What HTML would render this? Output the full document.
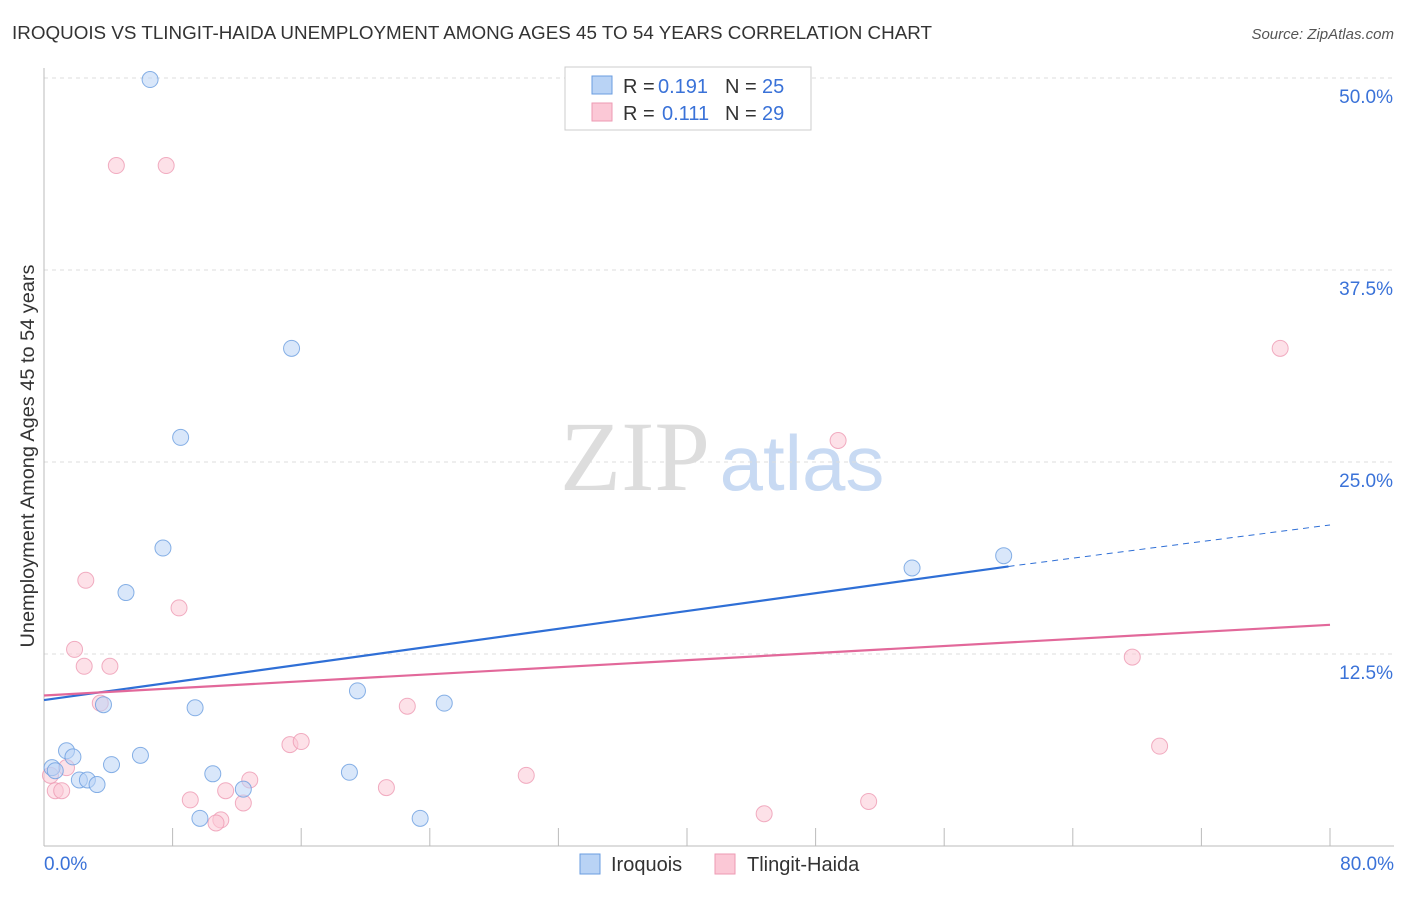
<!DOCTYPE html>
<html><head><meta charset="utf-8"><style>
body{margin:0;background:#fff;font-family:"Liberation Sans",sans-serif;}
</style></head><body>
<svg width="1406" height="892" xmlns="http://www.w3.org/2000/svg" id="svg">
<text x="12" y="39" font-size="18" fill="#333" textLength="920" lengthAdjust="spacingAndGlyphs">IROQUOIS VS TLINGIT-HAIDA UNEMPLOYMENT AMONG AGES 45 TO 54 YEARS CORRELATION CHART</text>
<text x="1394" y="39" font-size="15" fill="#555" font-style="italic" text-anchor="end">Source: ZipAtlas.com</text>
<text x="635" y="490" font-size="100" fill="#ddd" font-family="Liberation Serif,serif" text-anchor="middle">ZIP</text>
<text x="802" y="490" font-size="78" fill="#c8daf3" text-anchor="middle">atlas</text>
<text transform="translate(34,456) rotate(-90)" font-size="19" fill="#333" text-anchor="middle" textLength="383" lengthAdjust="spacingAndGlyphs">Unemployment Among Ages 45 to 54 years</text>
<g id="grid"></g><g id="marks"></g>
<g>
<rect x="565" y="67" width="246" height="63" fill="#fff" stroke="#ccc"/>
<rect x="592" y="76" width="20" height="18" fill="#b9d3f5" stroke="#6a9de0"/>
<rect x="592" y="103" width="20" height="18" fill="#fbc8d6" stroke="#ee9ab3"/>
<text y="93" font-size="20" fill="#333"><tspan x="623">R =</tspan><tspan x="658" fill="#3a72d8">0.191</tspan><tspan x="725">N =</tspan><tspan x="762" fill="#3a72d8">25</tspan></text>
<text y="120" font-size="20" fill="#333"><tspan x="623">R =</tspan><tspan x="662" fill="#3a72d8">0.111</tspan><tspan x="725">N =</tspan><tspan x="762" fill="#3a72d8">29</tspan></text>
</g>
<g>
<rect x="580" y="854" width="20" height="20" fill="#b9d3f5" stroke="#6a9de0"/>
<text x="611" y="871" font-size="20" fill="#333">Iroquois</text>
<rect x="715" y="854" width="20" height="20" fill="#fbc8d6" stroke="#ee9ab3"/>
<text x="747" y="871" font-size="20" fill="#333">Tlingit-Haida</text>
</g>
</svg>
<script>
const yTicks=[12.5,25,37.5,50];
const yTickLabels=["12.5%","25.0%","37.5%","50.0%"];
const xTickLabels=["0.0%","80.0%"];
const iroX=[6.6,15.4,8.5,7.4,5.1,3.7,9.4,19.5,24.9,1.4,1.8,6.0,4.2,10.5,19.0,2.2,2.7,3.3,12.4,9.7,23.4,54.0,59.7,0.5,0.7];
const iroY=[49.9,32.4,26.6,19.4,16.5,9.2,9.0,10.1,9.3,6.2,5.8,5.9,5.3,4.7,4.8,4.3,4.3,4.0,3.7,1.8,1.8,18.1,18.9,5.1,4.9];
const tliX=[4.5,7.6,2.6,8.4,1.9,2.5,4.1,3.5,22.6,15.3,16.0,1.4,0.7,1.1,9.1,11.3,12.8,12.4,11.0,10.7,21.3,30.0,44.8,51.3,76.9,49.4,67.7,69.4,0.4];
const tliY=[44.3,44.3,17.3,15.5,12.8,11.7,11.7,9.3,9.1,6.6,6.8,5.1,3.6,3.6,3.0,3.6,4.3,2.8,1.7,1.5,3.8,4.6,2.1,2.9,32.4,26.4,12.3,6.5,4.6];
const iroTrend=[9.5,18.2,20.9];const iroTrendX=[0,60,80];
const tliTrend=[9.8,14.4];const tliTrendX=[0,80];
const X=v=>44+v/80*1286, Y=v=>846-v*15.36;
const NS="http://www.w3.org/2000/svg";
const g=document.getElementById('grid'),m=document.getElementById('marks');
function el(t,a,p){const e=document.createElementNS(NS,t);for(const k in a)e.setAttribute(k,a[k]);p.appendChild(e);return e;}
yTicks.forEach((t,i)=>{
 const l=el('line',{x1:44,x2:1394,y1:Y(t),y2:Y(t),stroke:'#ddd','stroke-dasharray':'4,4'},g);
 
 
 const tx=el('text',{x:1393,y:Y(t)+25,'font-size':19,fill:'#3a72d8','text-anchor':'end'},g);
 tx.textContent=yTickLabels[i];
 
 
});
const ax=el('line',{x1:44,x2:1394,y1:846,y2:846,stroke:'#bbb'},g);


const ay=el('line',{x1:44,x2:44,y1:68,y2:846,stroke:'#bbb'},g);


for(let i=0;i<=10;i++){const t=el('line',{x1:X(i*8),x2:X(i*8),y1:828,y2:846,stroke:'#bbb'},g);
 
 }
[[0,'start',44],[80,'end',1394]].forEach((d,i)=>{const t=el('text',{x:d[2],y:870,'font-size':19,fill:'#3a72d8','text-anchor':d[1]},g);t.textContent=xTickLabels[i];
 
 });
function pts(xs,ys,f,s,n){xs.forEach((x,i)=>{const c=el('circle',{cx:X(x),cy:Y(ys[i]),r:8,fill:f,'fill-opacity':0.55,stroke:s,'stroke-opacity':0.8},m);
 
 });}
pts(tliX,tliY,'#fbc8d6','#ee9ab3','tlingit-point');
pts(iroX,iroY,'#b9d3f5','#6a9de0','iroquois-point');
let l1=el('line',{x1:X(iroTrendX[0]),y1:Y(iroTrend[0]),x2:X(iroTrendX[1]),y2:Y(iroTrend[1]),stroke:'#2f6fd6','stroke-width':2.2},m);


let l2=el('line',{x1:X(iroTrendX[1]),y1:Y(iroTrend[1]),x2:X(iroTrendX[2]),y2:Y(iroTrend[2]),stroke:'#2f6fd6','stroke-width':1,'stroke-dasharray':'6,5'},m);


let l3=el('line',{x1:X(tliTrendX[0]),y1:Y(tliTrend[0]),x2:X(tliTrendX[1]),y2:Y(tliTrend[1]),stroke:'#e2689a','stroke-width':2.2},m);


</script>
</body></html>
